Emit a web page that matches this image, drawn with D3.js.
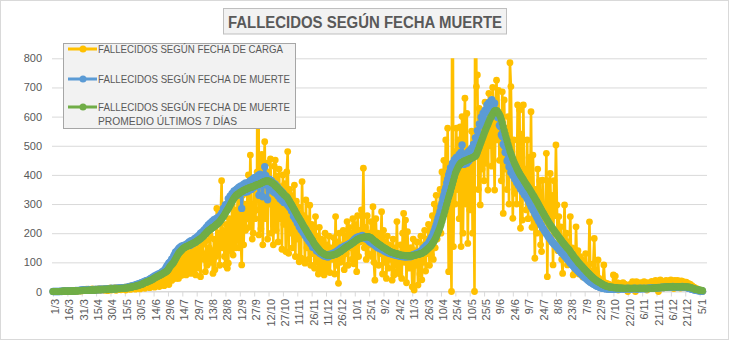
<!DOCTYPE html>
<html><head><meta charset="utf-8">
<script src="https://cdn.jsdelivr.net/npm/d3@7"></script>
<style>html,body{margin:0;padding:0;background:#fff;}svg{display:block;font-family:"Liberation Sans",Arial,sans-serif;}</style>
</head><body><svg id="c" width="730" height="341"></svg>
<script>
const chartTitle = "FALLECIDOS SEGÚN FECHA MUERTE";
const tickLabels = ["1/3","16/3","31/3","15/4","30/4","15/5","30/5","14/6","29/6","14/7","29/7","13/8","28/8","12/9","27/9","12/10","27/10","11/11","26/11","11/12","26/12","10/1","25/1","9/2","24/2","11/3","26/3","10/4","25/4","10/5","25/5","9/6","24/6","9/7","24/7","8/8","23/8","7/9","22/9","7/10","22/10","6/11","21/11","6/12","21/12","5/1"];
const yTickValues = [0,100,200,300,400,500,600,700,800];
const seriesNames = ["FALLECIDOS SEGÚN FECHA DE CARGA","FALLECIDOS SEGÚN FECHA DE MUERTE","FALLECIDOS SEGÚN FECHA DE MUERTE|PROMEDIO ÚLTIMOS 7 DÍAS"];

const cargaValues = [
0,0,0,0,0,0,0,0,1,0,1,0,
0,1,0,1,2,0,1,2,1,3,
2,1,3,2,4,1,3,5,2,4,
6,3,5,8,4,6,3,7,5,9,
4,6,8,3,7,5,10,4,6,9,
5,8,4,11,7,3,9,6,12,5,
8,11,6,13,4,9,12,7,14,6,
10,14,8,15,5,12,16,9,18,7,
13,19,10,21,8,16,23,12,26,9,
18,28,14,31,11,24,34,17,38,13,
26,41,18,45,15,32,48,22,52,17,
36,58,25,62,20,39,67,30,72,24,
50,82,38,91,45,68,91,45,105,45,
72,120,55,135,74,95,148,57,150,74,
88,130,62,148,70,112,140,57,150,80,
95,140,51,165,160,130,110,68,175,90,
110,150,194,100,140,62,180,75,120,285,
130,200,90,240,380,150,210,120,91,230,
80,97,250,180,140,297,125,200,280,150,
230,354,150,320,180,91,330,160,300,210,
250,340,400,220,468,300,180,200,360,250,
280,410,1500,194,450,215,470,160,390,514,
250,440,180,410,300,455,200,380,160,430,
451,210,395,170,420,250,360,145,400,230,
370,137,410,480,131,350,200,330,150,300,
365,120,310,180,290,102,270,114,377,200,
260,97,314,150,250,110,296,90,230,130,
210,80,257,100,190,60,220,75,180,95,
175,57,200,85,160,70,190,65,150,110,140,
185,60,257,90,170,28,200,100,160,120,
210,75,190,130,240,90,220,150,200,110,
250,95,230,140,68,260,120,210,170,280,
180,423,150,220,110,260,130,200,160,240,
120,291,100,39,250,150,200,90,180,130,
274,60,210,100,170,45,190,80,160,110,
140,39,180,57,150,90,240,70,130,60,
160,45,200,268,100,245,30,205,120,80,150,
150,16,180,5,140,90,170,22,130,60,
190,40,160,100,210,70,180,130,230,90,
210,125,260,110,300,150,330,180,290,240,
350,200,410,260,450,300,520,280,560,68,
400,250,0,1500,154,480,300,560,350,520,
250,565,154,600,200,520,663,300,611,165,
470,280,411,550,200,480,0,1500,703,743,
350,628,297,600,420,560,380,650,440,590,
348,680,500,620,430,700,560,348,640,725,
520,690,450,600,380,685,268,657,420,560,
350,600,300,785,703,480,251,520,337,450,
300,640,380,623,217,540,245,640,330,420,
280,520,250,460,300,617,220,468,330,114,
350,200,420,280,380,160,137,382,250,300,
240,474,51,380,190,405,250,330,91,380,
260,503,297,140,257,160,222,110,62,182,
297,120,200,91,170,140,257,95,150,57,
120,70,222,90,140,60,120,80,110,50,
100,60,130,45,90,40,239,45,70,30,
95,182,60,40,50,108,45,30,38,25,
35,91,30,10,28,18,25,8,22,15,20,
57,12,53,20,30,5,25,15,28,10,
30,8,25,12,22,0,20,10,25,15,
34,10,28,0,34,18,25,12,30,15,
28,10,34,15,25,5,30,20,22,12,
35,15,30,10,38,20,28,0,32,
40,22,35,12,30,25,38,15,33,
36,18,40,25,30,10,38,22,34,
38,25,32,12,36,20,34,28,30,
32,18,28,10,25,15,20,8,15,
12,4,10,3,6,2,4,1,0];

const muerteValues = [
0,0,0,0,0,0,0,0,1,0,1,1,
2,1,1,1,2,2,2,3,2,3,
2,3,4,3,4,3,4,5,4,5,
6,4,5,6,5,7,5,6,5,6,
7,6,5,8,6,7,6,9,7,6,
8,7,9,8,7,10,8,9,8,11,
9,10,11,9,11,10,12,11,12,11,
12,13,11,14,13,15,14,16,17,17,
18,20,19,22,21,24,23,26,27,28,
30,29,33,32,35,36,38,37,40,42,
45,43,49,48,53,51,57,55,60,58,
63,61,68,66,72,76,82,88,92,98,
100,104,112,110,122,128,136,132,142,146,
150,146,155,150,158,152,160,156,164,158,
170,158,174,162,176,166,182,170,186,176,
192,180,200,188,205,192,212,198,220,206,
228,212,234,218,240,222,246,228,250,236,
254,248,258,262,268,272,286,274,298,292,
300,318,300,328,310,336,320,345,326,348,
352,330,358,336,362,285,356,368,340,372,
366,342,374,348,380,350,384,356,390,360,
392,362,398,330,402,370,385,325,395,428,
398,365,315,372,385,352,380,345,372,340,
368,335,360,328,352,318,345,312,338,305,
326,310,314,296,305,288,292,276,280,258,
278,248,266,235,252,222,242,212,230,202,
220,192,212,182,200,172,190,164,172,152,
158,150,152,140,145,136,138,130,132,126,
128,122,126,120,125,118,127,122,124,130,124,
132,128,136,133,140,136,145,140,150,146,
150,155,153,158,160,157,163,165,162,170,
172,176,180,178,185,182,188,184,190,186,
192,185,188,182,184,178,180,172,170,168,
165,166,160,162,155,158,150,152,148,146,
146,142,144,138,140,135,137,132,134,130,
131,128,130,126,127,124,126,123,125,121,
124,120,123,119,122,118,121,119,120,123,119,
124,122,126,125,129,127,131,130,135,133,
138,141,145,150,148,156,160,158,166,172,
178,185,190,200,208,218,228,240,252,262,
275,290,302,318,330,345,356,372,385,400,
410,425,418,440,435,452,445,460,448,455,
470,445,478,503,452,436,460,470,440,478,
448,484,455,492,462,505,498,528,522,552,
545,575,568,598,578,612,590,622,612,640,
618,648,622,652,658,628,636,646,612,620,
598,596,570,566,538,532,505,500,478,476,
448,454,428,426,408,410,398,402,386,390,
374,382,364,370,352,358,342,346,332,336,
325,318,315,305,300,292,288,280,275,268,
262,255,250,242,238,230,226,218,215,208,
204,198,195,188,186,180,176,170,168,162,
160,156,152,148,145,140,138,132,130,126,
122,118,115,110,108,102,98,95,91,88,
84,80,78,74,70,67,64,60,58,55,
52,48,46,43,40,37,35,32,30,28,
26,24,22,20,18,17,16,14,13,12,
11,11,10,9,10,9,8,9,9,8,9,
8,9,10,8,9,10,9,8,10,9,
10,9,8,10,9,11,10,9,8,10,
9,10,11,9,10,8,10,9,11,10,
9,10,11,10,9,10,11,10,12,11,
11,12,11,13,12,13,12,14,13,
13,14,15,13,14,15,16,15,14,
15,16,14,15,17,15,16,15,16,
15,16,14,16,15,17,15,16,15,
14,13,12,11,10,9,8,7,6,
5,5,4,3,3,2,2,1,1];

const promedioValues = [
0,0,0,0,0,0,0,0,0,0,1,1,
1,1,1,1,1,1,1,1,2,2,
2,2,2,2,3,3,3,3,3,4,
4,4,4,4,4,4,5,5,5,5,
5,5,5,6,6,6,6,6,6,7,
7,7,7,7,7,8,8,8,8,8,
9,9,9,9,9,10,10,10,10,11,
11,11,11,12,12,12,13,13,14,15,
15,16,17,18,18,19,20,21,22,23,
24,25,27,29,30,32,33,34,36,37,
38,40,42,44,46,48,50,52,53,55,
57,58,60,62,64,66,68,70,74,79,
85,89,93,96,100,106,112,118,124,130,
134,138,141,145,148,150,152,154,155,157,
158,160,162,163,165,166,168,170,172,175,
177,179,181,184,187,190,194,197,201,205,
208,210,213,215,218,220,222,225,228,231,
233,236,240,244,249,253,258,263,269,275,
280,285,291,297,303,309,315,320,325,329,
332,334,336,339,341,343,345,347,349,350,
352,353,355,356,357,358,359,360,362,363,
365,366,367,368,370,371,373,375,376,378,
379,380,380,379,378,376,374,372,370,367,
363,360,357,354,350,347,343,340,337,333,
330,327,325,320,314,309,303,298,292,286,
280,274,268,262,256,251,245,240,234,228,
222,217,211,205,200,194,189,184,180,175,
168,163,158,154,150,146,142,138,135,133,
131,129,127,125,125,124,124,124,124,125,125,
126,127,128,129,131,133,135,137,139,142,
144,147,149,152,154,156,158,160,163,165,
167,169,172,174,177,179,180,182,183,184,
185,186,187,187,188,188,188,187,186,184,
181,178,175,172,170,167,165,162,160,158,
155,153,151,149,147,145,143,141,139,137,
135,134,133,132,131,130,129,128,127,126,
125,124,124,124,123,123,123,123,122,122,122,
122,123,123,124,125,125,126,127,128,129,
130,131,133,135,137,140,143,146,149,152,
155,159,164,169,174,180,187,195,203,211,
220,230,241,252,263,275,287,299,311,323,
334,345,357,369,381,393,405,413,420,427,
433,438,441,443,445,447,448,450,451,452,
454,455,457,458,459,461,463,465,470,478,
487,496,505,514,523,532,541,550,558,566,
574,582,590,597,603,609,615,620,621,621,
618,613,607,600,590,578,565,552,540,528,
517,505,494,482,473,464,455,446,438,431,
424,417,411,405,399,394,389,384,378,373,
368,363,358,353,348,342,337,331,326,320,
314,309,303,297,291,285,279,273,268,262,
256,251,245,240,234,229,224,219,214,210,
205,200,196,191,187,182,178,174,169,165,
161,157,153,149,146,142,137,132,128,123,
118,114,110,106,101,97,94,90,87,83,
79,76,72,69,65,62,59,55,52,49,
46,43,41,38,36,34,32,30,28,26,
24,22,21,19,18,17,16,16,15,15,14,
14,13,13,13,12,12,12,12,12,12,
11,11,11,11,11,11,11,11,11,11,
11,11,11,11,11,11,11,11,11,11,
11,11,11,11,11,11,11,11,11,11,
11,12,12,12,12,13,13,13,13,
14,14,14,15,15,15,15,16,16,
16,16,16,16,16,16,16,16,16,
16,16,16,16,16,16,16,16,16,
16,16,15,15,14,13,12,11,10,
8,7,7,6,5,5,4,4,3];

const seriesColors = ["#FFC000","#5B9BD5","#70AD47"];

const svg = d3.select("#c");
svg.append("rect").attr("x",0.5).attr("y",0.5).attr("width",728).attr("height",339)
  .attr("fill","#fff").attr("stroke","#d9d9d9");

const x = d3.scaleLinear().domain([0, 678]).range([53, 702.5]);
const y = d3.scaleLinear().domain([0, 800]).range([291.5, 58.3]);
const plotL = 52, plotR = 707;

const yAxis = svg.append("g").attr("transform", `translate(${plotL},0)`)
  .call(d3.axisLeft(y).tickValues(yTickValues).tickSize(-(plotR-plotL)).tickPadding(10));
yAxis.select(".domain").remove();
yAxis.selectAll("line").attr("stroke","#d9d9d9");
yAxis.selectAll("text").attr("fill","#595959").attr("font-size",11)
  .attr("font-family",'"Liberation Sans",Arial,sans-serif');

const xAxis = svg.append("g").attr("transform", `translate(0,${y(0)})`)
  .call(d3.axisBottom(x).tickValues(d3.range(0, tickLabels.length*15, 15))
    .tickFormat((d,i)=>tickLabels[i]).tickSize(5));
xAxis.select(".domain").remove();
xAxis.append("line").attr("x1",plotL).attr("x2",plotR).attr("y1",0).attr("y2",0).attr("stroke","#d9d9d9");
xAxis.selectAll(".tick line").attr("stroke","#d9d9d9");
xAxis.selectAll(".tick text").attr("fill","#595959").attr("font-size",11)
  .attr("font-family",'"Liberation Sans",Arial,sans-serif')
  .attr("transform","rotate(-90)").attr("text-anchor","end")
  .attr("x",-7.5).attr("y",5.5).attr("dy","0");

svg.append("defs").append("clipPath").attr("id","plotclip")
  .append("rect").attr("x",40).attr("y",y(800)).attr("width",680).attr("height",260);

const series = [
  {vals: cargaValues, color: seriesColors[0], lw: 2.6, r: 3.4},
  {vals: muerteValues, color: seriesColors[1], lw: 3, r: 3.7},
  {vals: promedioValues, color: seriesColors[2], lw: 3.5, r: 3.6}
];
const plotG = svg.append("g").attr("clip-path","url(#plotclip)");
const line = d3.line().x((d,i)=>x(i)).y(d=>y(d));
series.forEach(s => {
  const g = plotG.append("g");
  g.append("path").datum(s.vals).attr("d", line).attr("fill","none")
    .attr("stroke", s.color).attr("stroke-width", s.lw).attr("stroke-linejoin","round");
  g.selectAll("circle").data(s.vals.map((v,i)=>({v,i})).filter(d=>d.v<=800)).join("circle")
    .attr("cx", d=>x(d.i)).attr("cy", d=>y(d.v)).attr("r", s.r).attr("fill", s.color);
});

svg.append("rect").attr("x",223.5).attr("y",8.5).attr("width",283).attr("height",25.5)
  .attr("fill","#f2f2f2").attr("stroke","#bfbfbf");
svg.append("text").attr("x",365).attr("y",27.5).attr("text-anchor","middle")
  .attr("font-weight","bold").attr("font-size",16).attr("fill","#595959")
  .attr("textLength",274).attr("lengthAdjust","spacingAndGlyphs").text(chartTitle);

const leg = svg.append("g");
leg.append("rect").attr("x",63.5).attr("y",43.5).attr("width",232).attr("height",85)
  .attr("fill","#f2f2f2").attr("stroke","#a6a6a6");
const legY = [49, 79, 107];
const legLens = [[185],[192],[192,139]];
seriesNames.forEach((name, k) => {
  leg.append("line").attr("x1",68).attr("x2",97).attr("y1",legY[k]).attr("y2",legY[k])
    .attr("stroke",seriesColors[k]).attr("stroke-width",3);
  leg.append("circle").attr("cx",83).attr("cy",legY[k]).attr("r",3.5).attr("fill",seriesColors[k]);
  name.split("|").forEach((ln, j) => {
    leg.append("text").attr("x",98).attr("y",legY[k]+4 + j*13.5)
      .attr("font-size",11).attr("fill","#595959")
      .attr("textLength",legLens[k][j]).attr("lengthAdjust","spacingAndGlyphs").text(ln);
  });
});
</script></body></html>
